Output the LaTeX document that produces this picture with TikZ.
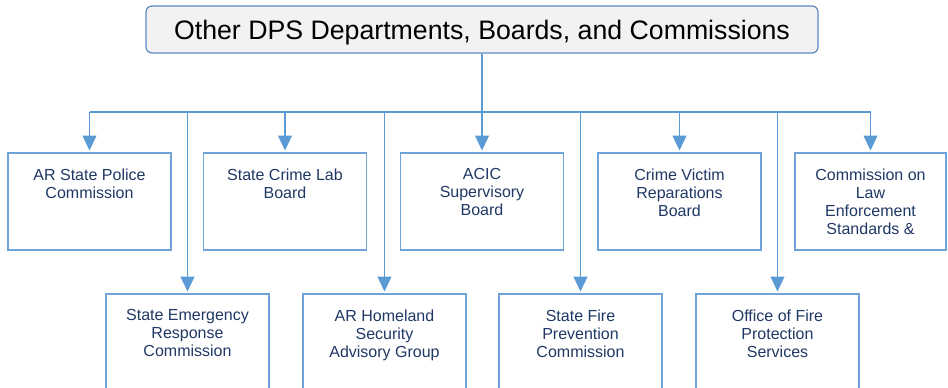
\documentclass[tikz,border=0pt]{standalone}
\usepackage{fontspec}
\setmainfont{Liberation Sans}
\usepackage{tikz}
\usetikzlibrary{arrows.meta}

\definecolor{linkblue}{HTML}{5B9BD5}
\definecolor{boxline}{HTML}{70A3DA}
\definecolor{headline}{HTML}{5A8AC6}
\definecolor{headfill}{HTML}{F2F2F2}
\definecolor{textnavy}{HTML}{1F3864}

% text of a unit box, set from the top down
\newcommand{\unitlabel}[2][150pt]{\parbox[c][97pt][t]{#1}{\centering\vspace{16pt}#2}}

\begin{document}
\begin{tikzpicture}[x=1pt,y=-1pt,
    head/.style={draw=headline, fill=headfill, line width=1.2pt, rounded corners=6pt,
        minimum width=672pt, minimum height=47pt, inner sep=0pt,
        text height=19pt, text depth=0pt,
        font=\fontsize{26.7}{30}\selectfont},
    unit/.style={draw=boxline, line width=1.6pt, minimum width=163pt, minimum height=97pt,
        inner sep=0pt, anchor=north, text=textnavy, font=\fontsize{16}{18}\selectfont},
    link/.style={draw=linkblue, line width=1.3pt},
    tip/.style={-{Triangle[length=15pt,width=14pt]}, shorten >=1.5pt}]
  \clip (0,0) rectangle (948,388);

  % Cabecera
  \node[head] (top) at (482,29.5) {Other DPS Departments, Boards, and Commissions};
  \coordinate (bus) at (0,112);

  % Fila superior
  \node[unit] (aspc) at (89.5,152) {\unitlabel{AR State Police\\Commission}};
  \node[unit] (scl) at (285,152) {\unitlabel{State Crime Lab\\Board}};
  \node[unit] (acic) at (482,152) {\unitlabel{ACIC\\Supervisory\\Board}};
  \node[unit] (cvr) at (679.5,152) {\unitlabel{Crime Victim\\Reparations\\Board}};
  \node[unit, minimum width=151pt] (clest) at (870.5,152) {\unitlabel[140pt]{Commission on\\Law\\Enforcement\\Standards \&}};

  % Fila inferior
  \node[unit] (serc) at (187.5,293) {\unitlabel{State Emergency\\Response\\Commission}};
  \node[unit] (ahsag) at (384.5,293) {\unitlabel{AR Homeland\\Security\\Advisory Group}};
  \node[unit] (sfpc) at (580.5,293) {\unitlabel{State Fire\\Prevention\\Commission}};
  \node[unit] (ofps) at (777.5,293) {\unitlabel{Office of Fire\\Protection\\Services}};

  % Conectores
  \draw[link] (top.south) -- (top.south |- bus);
  \draw[link] (aspc.north |- bus) -- (clest.north |- bus);
  \foreach \n in {aspc,scl,acic,cvr,clest}
    \draw[link,tip] (\n.north |- bus) -- (\n.north);
  \foreach \n in {serc,ahsag,sfpc,ofps}
    \draw[link,tip] (\n.north |- bus) -- (\n.north);
\end{tikzpicture}
\end{document}
